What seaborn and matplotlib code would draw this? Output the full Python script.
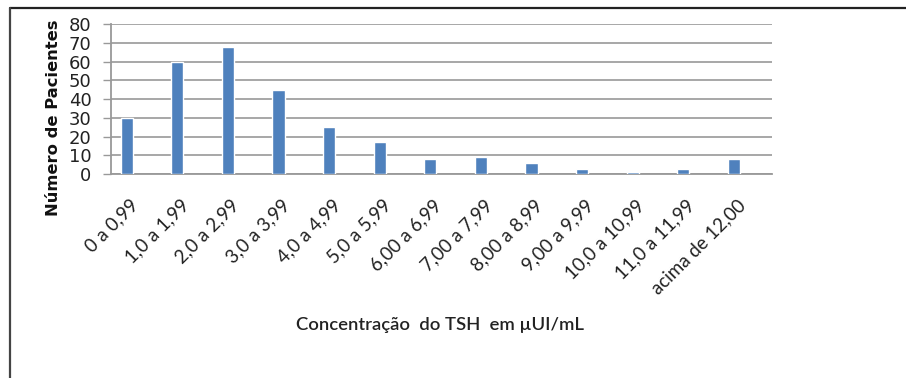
import matplotlib
matplotlib.use("Agg")
import matplotlib.pyplot as plt
from matplotlib.lines import Line2D
import seaborn as sns
import pandas as pd

categorias = ["0 a 0,99", "1,0 a 1,99", "2,0 a 2,99", "3,0 a 3,99", "4,0 a 4,99",
              "5,0 a 5,99", "6,00 a 6,99", "7,00 a 7,99", "8,00 a 8,99",
              "9,00 a 9,99", "10,0 a 10,99", "11,0 a 11,99", "acima de 12,00"]
pacientes = [30, 60, 68, 45, 25, 17, 8, 9, 6, 3, 1, 3, 8]
yticks = [0, 10, 20, 30, 40, 50, 60, 70, 80]

df = pd.DataFrame({"faixa": categorias, "n": pacientes})

sns.set_style("white")
fig = plt.figure(figsize=(9.06, 3.78), dpi=100)
ax = fig.add_axes([0.1225, 0.539, 0.7295, 0.3975])

sns.barplot(data=df, x="faixa", y="n", color="#4f81bd", width=0.24,
            saturation=1, ax=ax, zorder=3)

ax.set_ylim(0, 80)
ax.set_yticks(yticks)
ax.set_xlim(-0.31, len(categorias) - 0.25)
ax.yaxis.grid(True, color="#a0a0a0", linewidth=1.3)
ax.set_axisbelow(True)
for s in ["top", "right"]:
    ax.spines[s].set_visible(False)
for s in ["left", "bottom"]:
    ax.spines[s].set_color("#999999")
    ax.spines[s].set_linewidth(1.3)

ax.tick_params(axis="y", left=True, length=6, width=1, color="#999999",
               labelsize=13, labelcolor="#222222", pad=8)
for lab in ax.get_yticklabels():
    lab.set_fontfamily("DejaVu Sans")

# rótulos das faixas junto de cada categoria
ax.set_xticks([i + 0.05 for i in range(len(categorias))])
ax.set_xticklabels(categorias, rotation=45, ha="right", rotation_mode="anchor",
                   fontsize=13.5, fontfamily="Lato", color="#222222")
ax.tick_params(axis="x", bottom=False, length=0, pad=16)
ax.set_xlabel("")
ax.set_ylabel("")

fig.text(0.059, 0.688, "Número de Pacientes", rotation=90, ha="center", va="center",
         fontsize=11.8, fontweight="bold", fontfamily="DejaVu Sans", color="#111111")
fig.text(0.486, 0.14, "Concentração  do TSH  em µUI/mL", ha="center", va="center",
         fontsize=13.3, fontfamily="Lato", fontweight="semibold", color="#222222")

# moldura da figura
fig.add_artist(Line2D([0.011, 1.0], [0.979, 0.979], transform=fig.transFigure,
                      color="#222222", linewidth=1.6))
fig.add_artist(Line2D([0.011, 0.011], [0.0, 0.979], transform=fig.transFigure,
                      color="#444444", linewidth=1.6))

fig.savefig("out.png", dpi=100)
